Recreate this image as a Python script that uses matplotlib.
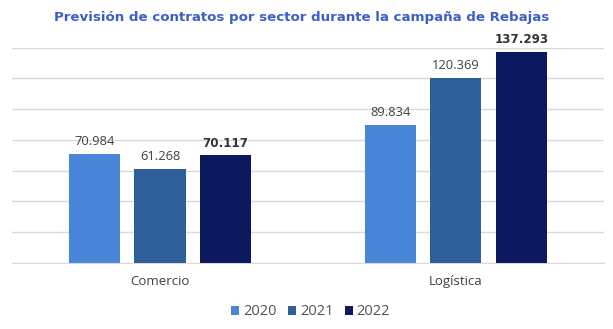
import matplotlib
matplotlib.use("Agg")
import matplotlib.pyplot as plt
import numpy as np

# Data
sectors = ["Comercio", "Logística"]
years = ["2020", "2021", "2022"]
values_2020 = [70984, 89834]
values_2021 = [61268, 120369]
values_2022 = [70117, 137293]
value_labels_2020 = ["70.984", "89.834"]
value_labels_2021 = ["61.268", "120.369"]
value_labels_2022 = ["70.117", "137.293"]

series = [values_2020, values_2021, values_2022]
series_labels = [value_labels_2020, value_labels_2021, value_labels_2022]
colors = ["#4a86d8", "#2f5f98", "#0c195e"]
label_color = "#404040"

fig = plt.figure(figsize=(6.13, 3.29), dpi=100)
ax = fig.add_axes([0.0196, 0.2006, 0.9654, 0.655])

x = np.arange(len(sectors))
width = 0.173
offsets = [-0.221, 0.0, 0.221]

for i, (vals, labs) in enumerate(zip(series, series_labels)):
    bars = ax.bar(x + offsets[i], vals, width, color=colors[i], label=years[i], zorder=3)
    bold = (i == 2)
    for rect, lab in zip(bars, labs):
        ax.annotate(lab, (rect.get_x() + rect.get_width() / 2, rect.get_height()),
                    xytext=(0, 4), textcoords="offset points", ha="center", va="bottom",
                    fontsize=8.6 if bold else 9.3,
                    fontweight="bold" if bold else "normal",
                    family="DejaVu Sans" if bold else "Open Sans",
                    color="#333333" if bold else label_color)

ax.set_xlim(-0.5, 1.5)
ax.set_ylim(0, 140000)
ax.set_yticks(np.arange(0, 140001, 20000))
ax.yaxis.grid(True, color="#d9d9d9", linewidth=1, zorder=0)
ax.tick_params(axis="y", left=False, labelleft=False)
ax.tick_params(axis="x", bottom=False, pad=5)
ax.set_xticks(x)
ax.set_xticklabels(sectors, fontsize=9.5, family="Open Sans", color=label_color)
for s in ["top", "right", "left"]:
    ax.spines[s].set_visible(False)
ax.spines["bottom"].set_color("#d9d9d9")

fig.text(0.492, 0.948, "Previsión de contratos por sector durante la campaña de Rebajas",
         ha="center", va="center", fontsize=9.6, fontweight="bold",
         family="DejaVu Sans", color="#3a5fcd")

leg = fig.legend(loc="center", bbox_to_anchor=(0.507, 0.052), ncol=3, frameon=False,
                 prop={"family": "Open Sans", "size": 10.5},
                 handlelength=0.55, handleheight=0.55, handletextpad=0.25, columnspacing=0.8)
for t in leg.get_texts():
    t.set_color("#505050")

fig.savefig("out.png", dpi=100)
